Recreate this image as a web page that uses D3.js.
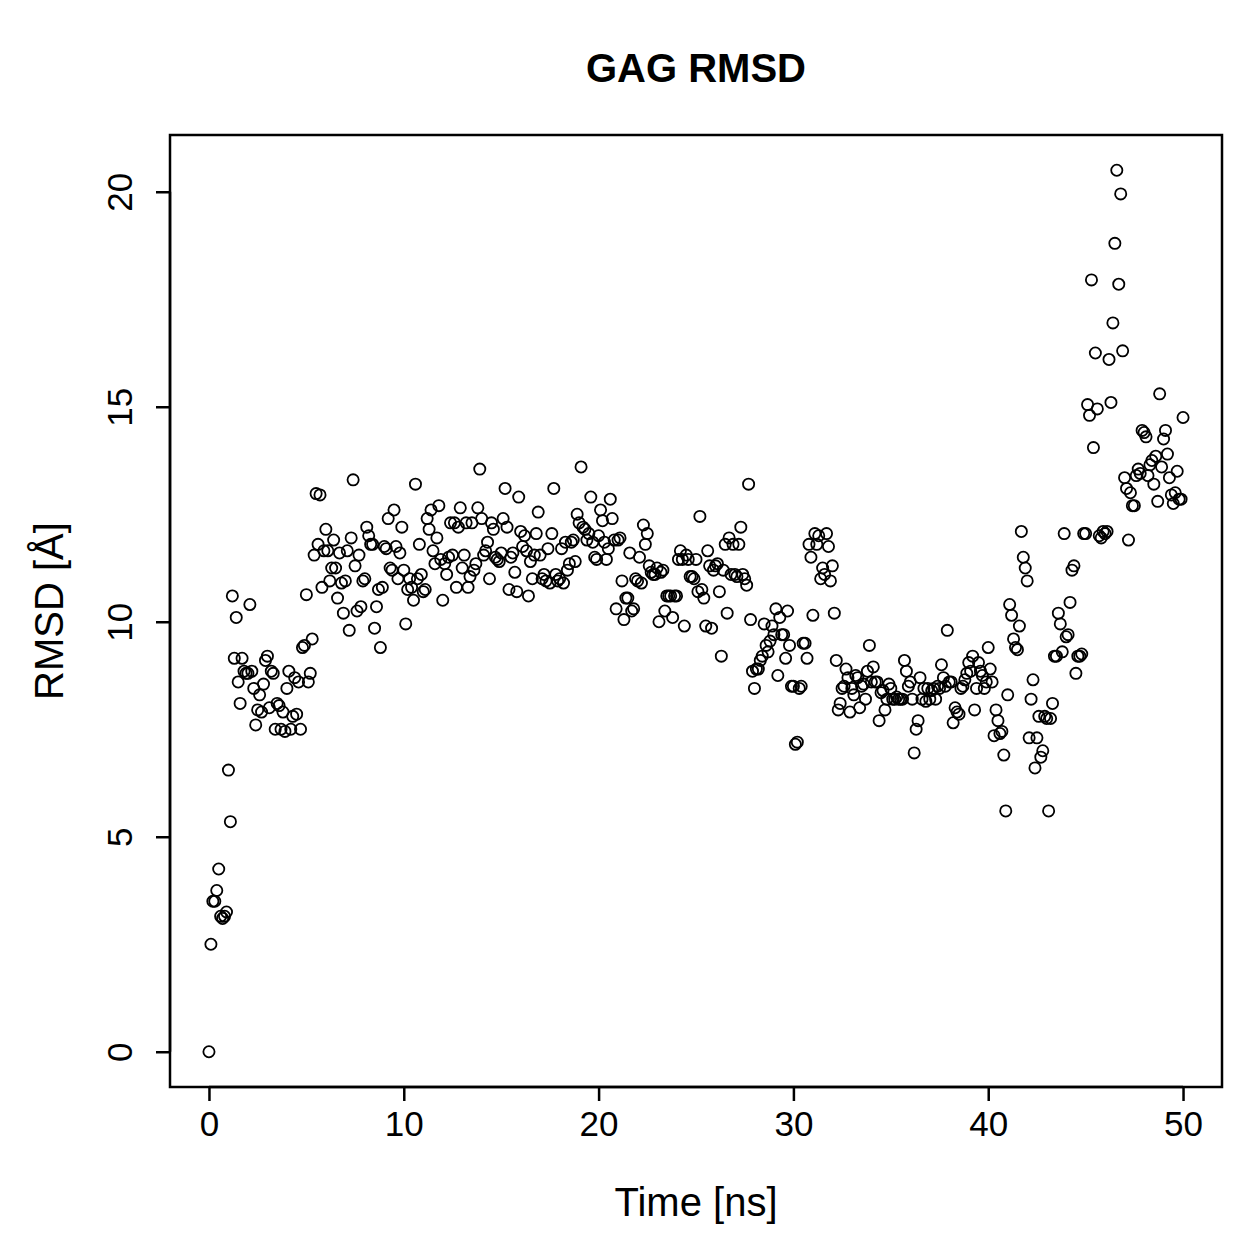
<!doctype html>
<html>
  <head>
    <title>GAG RMSD</title>
    <script src="https://d3js.org/d3.v7.min.js"></script>
    <style>
      body { margin: 0; background: #fff; }
      text { font-family: 'Liberation Sans', Arial, sans-serif; fill: #000; }
    </style>
  </head>
  <body>
    <svg id="chart" width="1259" height="1259"></svg>

    <script>
      // RMSD samples, one row per ns (0.1 ns step), last value at 50 ns
      var timeStep = 0.1
      var rmsd = [
        0.0, 2.5, 3.5, 3.5, 3.75, 4.25, 3.15, 3.1, 3.15, 3.25,
        6.55, 5.35, 10.6, 9.15, 10.1, 8.6, 8.1, 9.15, 8.85, 8.8,
        8.8, 10.4, 8.85, 8.45, 7.6, 7.95, 8.3, 7.9, 8.55, 9.1,
        9.2, 8.0, 8.85, 8.8, 7.5, 8.1, 8.05, 7.5, 7.9, 7.45,
        8.45, 8.85, 7.5, 7.8, 8.7, 7.85, 8.6, 7.5, 9.4, 9.45,
        10.63, 8.6, 8.8, 9.6, 11.55, 12.98, 11.8, 12.95, 10.8, 11.65,
        12.15, 11.65, 10.95, 11.25, 11.9, 11.25, 10.55, 11.6, 10.9, 10.2,
        10.95, 11.65, 9.8, 11.95, 13.3, 11.3, 10.25, 11.55, 10.35, 10.95,
        11.0, 12.2, 12.0, 11.8, 11.8, 9.85, 10.35, 10.75, 9.4, 10.8,
        11.75, 11.7, 12.4, 11.25, 11.2, 12.6, 11.75, 11.0, 11.6, 12.2,
        11.2, 9.95, 10.75, 11.0, 10.8, 10.5, 13.2, 11.0, 11.8, 11.1,
        10.7, 10.75, 12.4, 12.15, 12.6, 11.65, 11.35, 11.95, 12.7, 11.45,
        10.5, 11.35, 11.1, 11.5, 12.3, 11.55, 12.3, 10.8, 12.2, 12.65,
        11.25, 11.55, 12.3, 10.8, 11.05, 12.3, 11.2, 11.35, 12.65, 13.55,
        12.4, 11.55, 11.65, 11.85, 11.0, 12.3, 12.15, 11.5, 11.45, 11.4,
        11.6, 12.4, 13.1, 12.2, 10.75, 11.5, 11.6, 11.15, 10.7, 12.9,
        12.1, 11.75, 12.0, 11.65, 10.6, 11.4, 11.0, 11.55, 12.05, 12.55,
        11.55, 11.0, 11.1, 10.95, 11.7, 10.9, 12.05, 13.1, 11.1, 10.95,
        11.0, 11.7, 10.9, 11.85, 11.2, 11.35, 11.85, 11.9, 11.4, 12.5,
        12.3, 13.6, 12.2, 12.15, 11.9, 12.05, 12.9, 11.85, 11.5, 11.45,
        12.0, 12.6, 12.35, 11.85, 11.45, 11.7, 12.85, 12.4, 11.9, 10.3,
        11.9, 11.95, 10.95, 10.05, 10.55, 10.55, 11.6, 10.25, 10.3, 11.0,
        10.95, 11.5, 10.9, 12.25, 11.8, 12.05, 11.3, 11.15, 11.1, 11.1,
        11.25, 10.0, 11.15, 11.2, 10.25, 10.6, 10.6, 10.6, 10.1, 10.6,
        10.6, 11.45, 11.65, 11.45, 9.9, 11.55, 11.45, 11.05, 11.05, 11.0,
        11.45, 10.7, 12.45, 10.75, 10.55, 9.9, 11.65, 11.3, 9.85, 11.2,
        11.3, 11.35, 10.7, 9.2, 11.2, 11.8, 10.2, 11.95, 11.1, 11.8,
        11.1, 11.05, 11.8, 12.2, 11.1, 11.0, 10.85, 13.2, 10.05, 8.85,
        8.45, 8.9, 8.9, 9.1, 9.2, 9.95, 9.45, 9.3, 9.55, 9.9,
        9.7, 10.3, 8.75, 10.1, 9.7, 9.7, 9.15, 10.25, 9.45, 8.5,
        8.5, 7.15, 7.2, 8.45, 8.5, 9.5, 9.5, 9.15, 11.8, 11.5,
        10.15, 12.05, 11.8, 12.0, 11.0, 11.25, 11.1, 12.05, 11.75, 10.95,
        11.3, 10.2, 9.1, 7.95, 8.1, 8.45, 8.5, 8.9, 8.7, 7.9,
        8.45, 8.3, 8.75, 8.7, 8.0, 8.5, 8.55, 8.2, 8.85, 9.45,
        8.6, 8.95, 8.6, 8.6, 7.7, 8.35, 8.4, 7.95, 8.2, 8.55,
        8.45, 8.2, 8.2, 8.25, 8.2, 8.2, 8.2, 9.1, 8.85, 8.5,
        8.6, 8.2, 6.95, 7.5, 7.7, 8.7, 8.2, 8.45, 8.15, 8.45,
        8.2, 8.4, 8.45, 8.2, 8.5, 8.45, 9.0, 8.7, 8.5, 9.8,
        8.6, 8.6, 7.65, 8.0, 7.9, 7.85, 8.45, 8.5, 8.65, 8.8,
        9.05, 8.85, 9.2, 7.95, 8.45, 9.05, 8.85, 8.75, 8.45, 8.6,
        9.4, 8.9, 8.6, 7.35, 7.95, 7.7, 7.4, 7.45, 6.9, 5.6,
        8.3, 10.4, 10.15, 9.6, 9.4, 9.35, 9.9, 12.1, 11.5, 11.25,
        10.95, 7.3, 8.2, 8.65, 6.6, 7.3, 7.8, 6.85, 7.0, 7.8,
        7.75, 5.6, 7.75, 8.1, 9.2, 9.2, 10.2, 9.95, 9.3, 12.05,
        9.65, 9.7, 10.45, 11.2, 11.3, 8.8, 9.2, 9.2, 9.25, 12.05,
        12.05, 15.05, 14.8, 17.95, 14.05, 16.25, 14.95, 12.0, 11.95, 12.1,
        12.05, 12.1, 16.1, 15.1, 16.95, 18.8, 20.5, 17.85, 19.95, 16.3,
        13.35, 13.1, 11.9, 13.0, 12.7, 12.7, 13.4, 13.55, 13.45, 14.45,
        14.4, 14.3, 13.4, 13.65, 13.75, 13.2, 13.85, 12.8, 15.3, 13.6,
        14.25, 14.45, 13.9, 13.35, 12.95, 12.75, 13.0, 13.5, 12.85, 12.85,
        14.75
      ]
      var xTicks = [0, 10, 20, 30, 40, 50]
      var yTicks = [0, 5, 10, 15, 20]

      var data = rmsd.map((v, i) => ({ t: i * timeStep, v: v }))

      var plotLeft = 170, plotRight = 1222, plotTop = 135, plotBottom = 1087

      // R-style 4% axis padding
      var xExt = d3.extent(data, (d) => d.t)
      var yExt = d3.extent(data, (d) => d.v)
      var xPad = (xExt[1] - xExt[0]) * 0.04
      var yPad = (yExt[1] - yExt[0]) * 0.04

      var x = d3.scaleLinear().domain([xExt[0] - xPad, xExt[1] + xPad]).range([plotLeft, plotRight])
      var y = d3.scaleLinear().domain([yExt[0] - yPad, yExt[1] + yPad]).range([plotBottom, plotTop])

      var svg = d3.select('#chart')

      svg.append('rect')
        .attr('width', 1259).attr('height', 1259).attr('fill', '#fff')

      svg.append('g')
        .selectAll('circle')
        .data(data)
        .join('circle')
        .attr('cx', (d) => x(d.t))
        .attr('cy', (d) => y(d.v))
        .attr('r', 5.6)
        .attr('fill', 'none')
        .attr('stroke', '#000')
        .attr('stroke-width', 1.8)

      svg.append('rect')
        .attr('x', plotLeft).attr('y', plotTop)
        .attr('width', plotRight - plotLeft).attr('height', plotBottom - plotTop)
        .attr('fill', 'none').attr('stroke', '#000').attr('stroke-width', 2.5)

      var xAxis = d3.axisBottom(x).tickValues(xTicks).tickSize(14).tickPadding(10)
      var gx = svg.append('g').attr('transform', `translate(0,${plotBottom})`).call(xAxis)
      gx.select('.domain').attr('d', `M${x(xTicks[0])},0H${x(xTicks[xTicks.length - 1])}`)
        .attr('stroke-width', 2.5)
      gx.selectAll('.tick line').attr('stroke-width', 2.5)
      gx.selectAll('.tick text').attr('font-size', 35).attr('font-family', 'Liberation Sans, Arial, sans-serif')
        .attr('fill', '#000')

      var yAxis = d3.axisLeft(y).tickValues(yTicks).tickSize(14)
      var gy = svg.append('g').attr('transform', `translate(${plotLeft},0)`).call(yAxis)
      gy.select('.domain').attr('d', `M0,${y(yTicks[0])}V${y(yTicks[yTicks.length - 1])}`)
        .attr('stroke-width', 2.5)
      gy.selectAll('.tick line').attr('stroke-width', 2.5)
      gy.selectAll('.tick text')
        .attr('font-size', 35).attr('font-family', 'Liberation Sans, Arial, sans-serif')
        .attr('fill', '#000')
        .attr('x', null).attr('dy', null)
        .attr('text-anchor', 'middle')
        .attr('transform', 'translate(-38,0) rotate(-90)')

      svg.append('text')
        .attr('x', (plotLeft + plotRight) / 2).attr('y', 82)
        .attr('text-anchor', 'middle')
        .attr('font-size', 40).attr('font-weight', 'bold')
        .text('GAG RMSD')

      svg.append('text')
        .attr('x', (plotLeft + plotRight) / 2).attr('y', 1216)
        .attr('text-anchor', 'middle')
        .attr('font-size', 40)
        .text('Time [ns]')

      svg.append('text')
        .attr('transform', `translate(63,${(plotTop + plotBottom) / 2}) rotate(-90)`)
        .attr('text-anchor', 'middle')
        .attr('font-size', 40)
        .text('RMSD [Å]')
    </script>
  </body>
</html>
